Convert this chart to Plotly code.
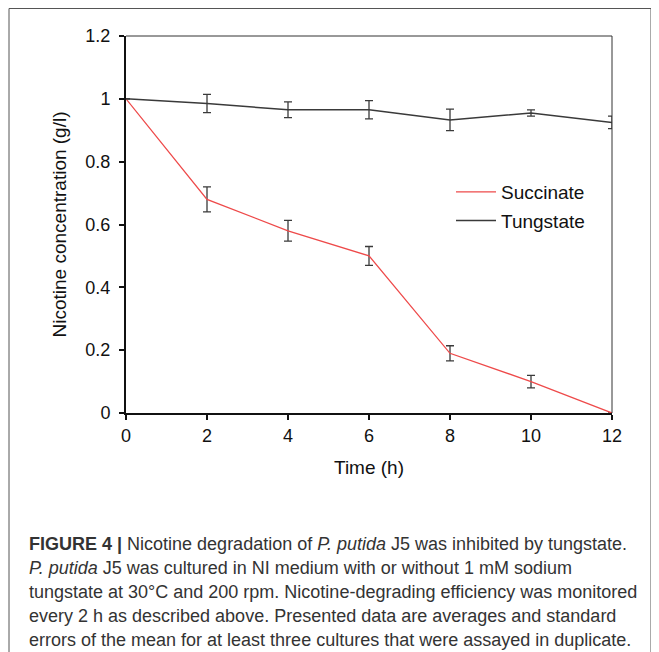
import plotly.graph_objects as go

time_h = [0, 2, 4, 6, 8, 10, 12]
succinate = [1.0, 0.68, 0.58, 0.50, 0.19, 0.10, 0.0]
succinate_err = [0.0, 0.04, 0.033, 0.03, 0.024, 0.02, 0.0]
tungstate = [1.0, 0.985, 0.965, 0.965, 0.933, 0.955, 0.925]
tungstate_err = [0.0, 0.029, 0.025, 0.029, 0.034, 0.01, 0.02]
x_ticks = [0, 2, 4, 6, 8, 10, 12]
y_ticks = [0, 0.2, 0.4, 0.6, 0.8, 1.0, 1.2]
y_tick_labels = ["0", "0.2", "0.4", "0.6", "0.8", "1", "1.2"]

caption_lines = [
    "<b>FIGURE 4 |</b> Nicotine degradation of <i>P. putida</i> J5 was inhibited by tungstate.",
    "<i>P. putida</i> J5 was cultured in NI medium with or without 1 mM sodium",
    "tungstate at 30°C and 200 rpm. Nicotine-degrading efficiency was monitored",
    "every 2 h as described above. Presented data are averages and standard",
    "errors of the mean for at least three cultures that were assayed in duplicate.",
]

W, H = 659, 652
# page is offset by 8px body margin in the screenshot
L, R, T, B = 118, 604, 28, 405
pw, ph = R - L, B - T

def px(x):
    return (x - L) / pw

def py(y):
    return (B - y) / ph

FONT = "Liberation Sans, Arial, sans-serif"

fig = go.Figure()
fig.add_trace(go.Scatter(
    x=time_h, y=succinate, name="Succinate", mode="lines", legendgroup="s",
    line=dict(color="#ee4a4a", width=1.3),
    error_y=dict(type="data", array=succinate_err, visible=True,
                 color="#3a3a3a", thickness=1.3, width=4),
))
fig.add_trace(go.Scatter(
    x=time_h, y=tungstate, name="Tungstate", mode="lines", legendgroup="t",
    line=dict(color="#3a3a3a", width=1.5),
    error_y=dict(type="data", array=tungstate_err, visible=True,
                 color="#3a3a3a", thickness=1.3, width=4),
))

# frame: thin top and right lines
fig.add_shape(type="line", xref="paper", yref="paper", x0=0, x1=1, y0=1, y1=1,
              line=dict(color="#333333", width=1))
fig.add_shape(type="line", xref="paper", yref="paper", x0=1, x1=1, y0=0, y1=1,
              line=dict(color="#333333", width=1))
# outer figure border
fig.add_shape(type="rect", xref="paper", yref="paper",
              x0=px(1), x1=px(643), y0=py(662), y1=py(0.5),
              line=dict(color="#555555", width=1))

for i, t in enumerate(caption_lines):
    fig.add_annotation(text=t, xref="paper", yref="paper", x=px(19), y=py(536 + 24 * i),
                       xanchor="left", yanchor="middle", showarrow=False,
                       font=dict(family=FONT, size=18, color="#333333"))

fig.update_layout(
    width=W, height=H,
    margin=dict(l=L, r=W - R, t=T, b=H - B, pad=0),
    paper_bgcolor="white", plot_bgcolor="white",
    font=dict(family=FONT, size=18, color="#111111"),
    showlegend=True,
    legend=dict(x=px(443), y=py(165), xanchor="left", yanchor="top",
                bgcolor="rgba(0,0,0,0)", font=dict(size=19, color="#111111"),
                itemwidth=40, tracegroupgap=1),
    xaxis=dict(range=[0, 12], tickvals=x_ticks, ticks="outside", ticklen=5,
               tickwidth=1.5, tickcolor="#111111", showline=True, linewidth=2,
               linecolor="#111111", showgrid=False, zeroline=False,
               tickfont=dict(size=18),
               title=dict(text="Time (h)", font=dict(size=19), standoff=16)),
    yaxis=dict(range=[0, 1.2], tickvals=y_ticks, ticktext=y_tick_labels,
               ticks="outside", ticklen=5, tickwidth=1.5, tickcolor="#111111",
               showline=True, linewidth=2, linecolor="#111111", showgrid=False,
               zeroline=False, tickfont=dict(size=18), ticklabelstandoff=5,
               title=dict(text="Nicotine concentration (g/l)", font=dict(size=19),
                          standoff=14)),
)

fig.write_html("out.html")
